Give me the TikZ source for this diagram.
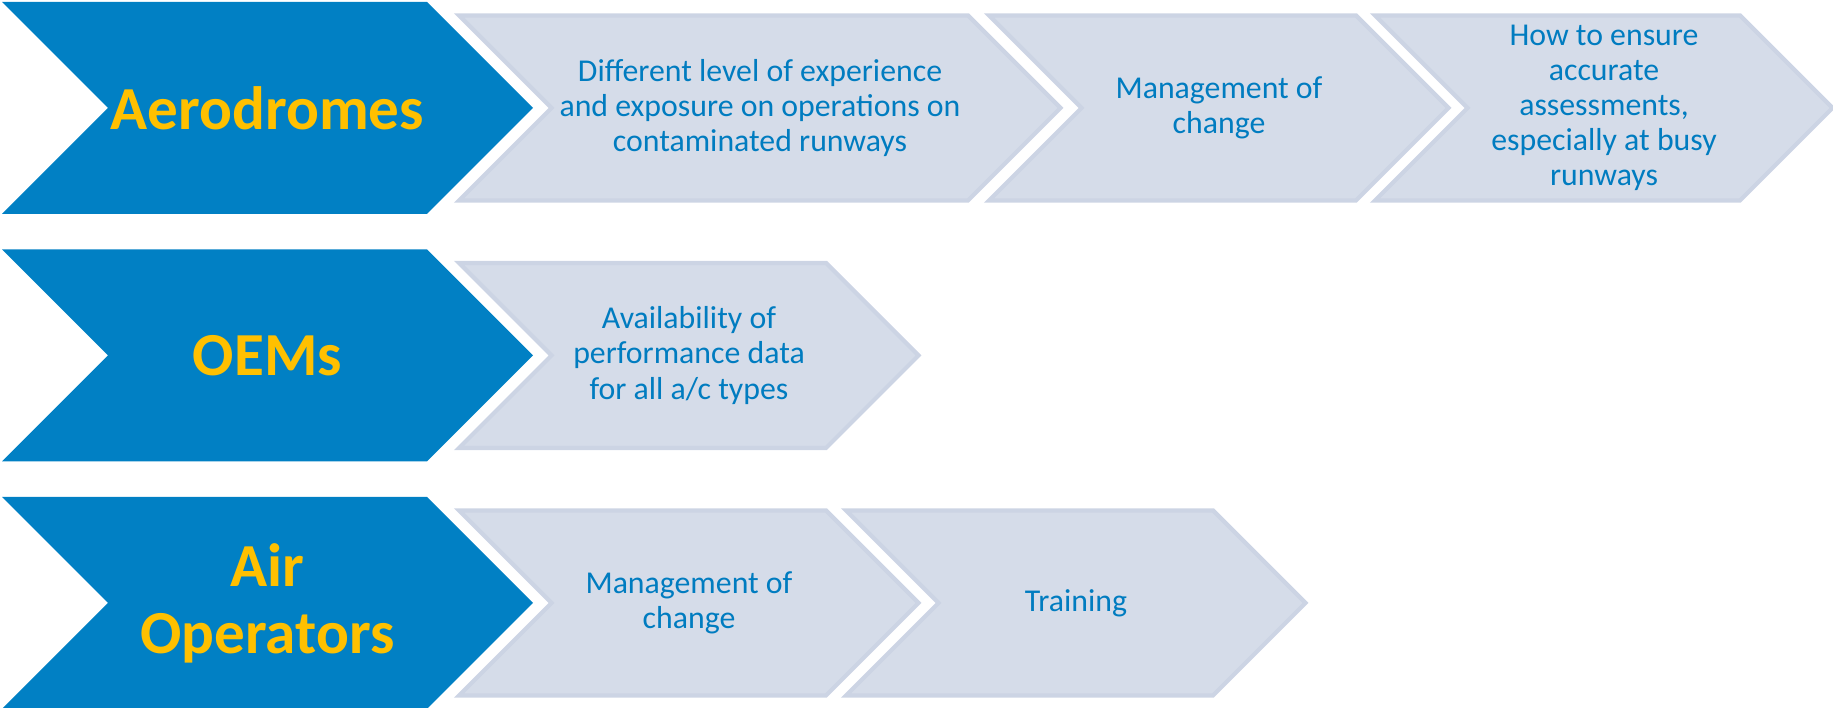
\documentclass[tikz,border=0pt]{standalone}
\usepackage{fontspec}
\setmainfont{Carlito}

\definecolor{leadblue}{RGB}{1,128,196}
\definecolor{leadgold}{RGB}{255,192,0}
\definecolor{issuefill}{RGB}{213,220,233}
\definecolor{issueline}{RGB}{204,212,228}
\definecolor{issuetext}{RGB}{0,124,192}

\begin{document}
\begin{tikzpicture}[
  group/.style={fill=leadblue, draw=none},
  issue/.style={fill=issuefill, draw=issueline, line width=1.2pt, line join=miter},
  grouplabel/.style={align=center, text=leadgold, font=\fontsize{17.4}{19}\selectfont\bfseries},
  issuelabel/.style={align=center, text=issuetext, font=\fontsize{9.05}{10}\selectfont}]
\useasboundingbox (0,0) rectangle (18.33,7.08);

% blue heads, one per row
\filldraw[group] (0.02,7.06) -- (4.27,7.06) -- (5.33,6.00) -- (4.27,4.94) -- (0.02,4.94) -- (1.08,6.00) -- cycle;
\filldraw[group] (0.02,4.585) -- (4.27,4.585) -- (5.33,3.525) -- (4.27,2.465) -- (0.02,2.465) -- (1.08,3.525) -- cycle;
\filldraw[group] (0.02,2.11) -- (4.27,2.11) -- (5.33,1.05) -- (4.27,-0.01) -- (0.02,-0.01) -- (1.08,1.05) -- cycle;
\node[grouplabel] (aero) at (2.675,6.00) {Aerodromes};
\node[grouplabel] (oem) at (2.675,3.525) {OEMs};
\node[grouplabel] (airops) at (2.675,1.05) {Air\\Operators};

% row 1
\filldraw[issue] (4.59,6.925) -- (9.68,6.925) -- (10.605,6.00) -- (9.68,5.075) -- (4.59,5.075) -- (5.515,6.00) -- cycle;
\filldraw[issue] (9.89,6.925) -- (13.56,6.925) -- (14.485,6.00) -- (13.56,5.075) -- (9.89,5.075) -- (10.815,6.00) -- cycle;
\filldraw[issue] (13.75,6.925) -- (17.40,6.925) -- (18.325,6.00) -- (17.40,5.075) -- (13.75,5.075) -- (14.675,6.00) -- cycle;
\node[issuelabel] (aero1) at (7.60,6.00) {Different level of experience\\and exposure on operations on\\contaminated runways};
\node[issuelabel] (aero2) at (12.19,6.00) {Management of\\change};
\node[issuelabel] (aero3) at (16.04,6.00) {How to ensure\\accurate\\assessments,\\especially at busy\\runways};

% row 2
\filldraw[issue] (4.59,4.45) -- (8.26,4.45) -- (9.185,3.525) -- (8.26,2.60) -- (4.59,2.60) -- (5.515,3.525) -- cycle;
\node[issuelabel] (oem1) at (6.89,3.525) {Availability of\\performance data\\for all a/c types};

% row 3
\filldraw[issue] (4.59,1.975) -- (8.26,1.975) -- (9.185,1.05) -- (8.26,0.125) -- (4.59,0.125) -- (5.515,1.05) -- cycle;
\filldraw[issue] (8.46,1.975) -- (12.13,1.975) -- (13.055,1.05) -- (12.13,0.125) -- (8.46,0.125) -- (9.385,1.05) -- cycle;
\node[issuelabel] (airops1) at (6.89,1.05) {Management of\\change};
\node[issuelabel] (airops2) at (10.76,1.05) {Training};
\end{tikzpicture}
\end{document}
